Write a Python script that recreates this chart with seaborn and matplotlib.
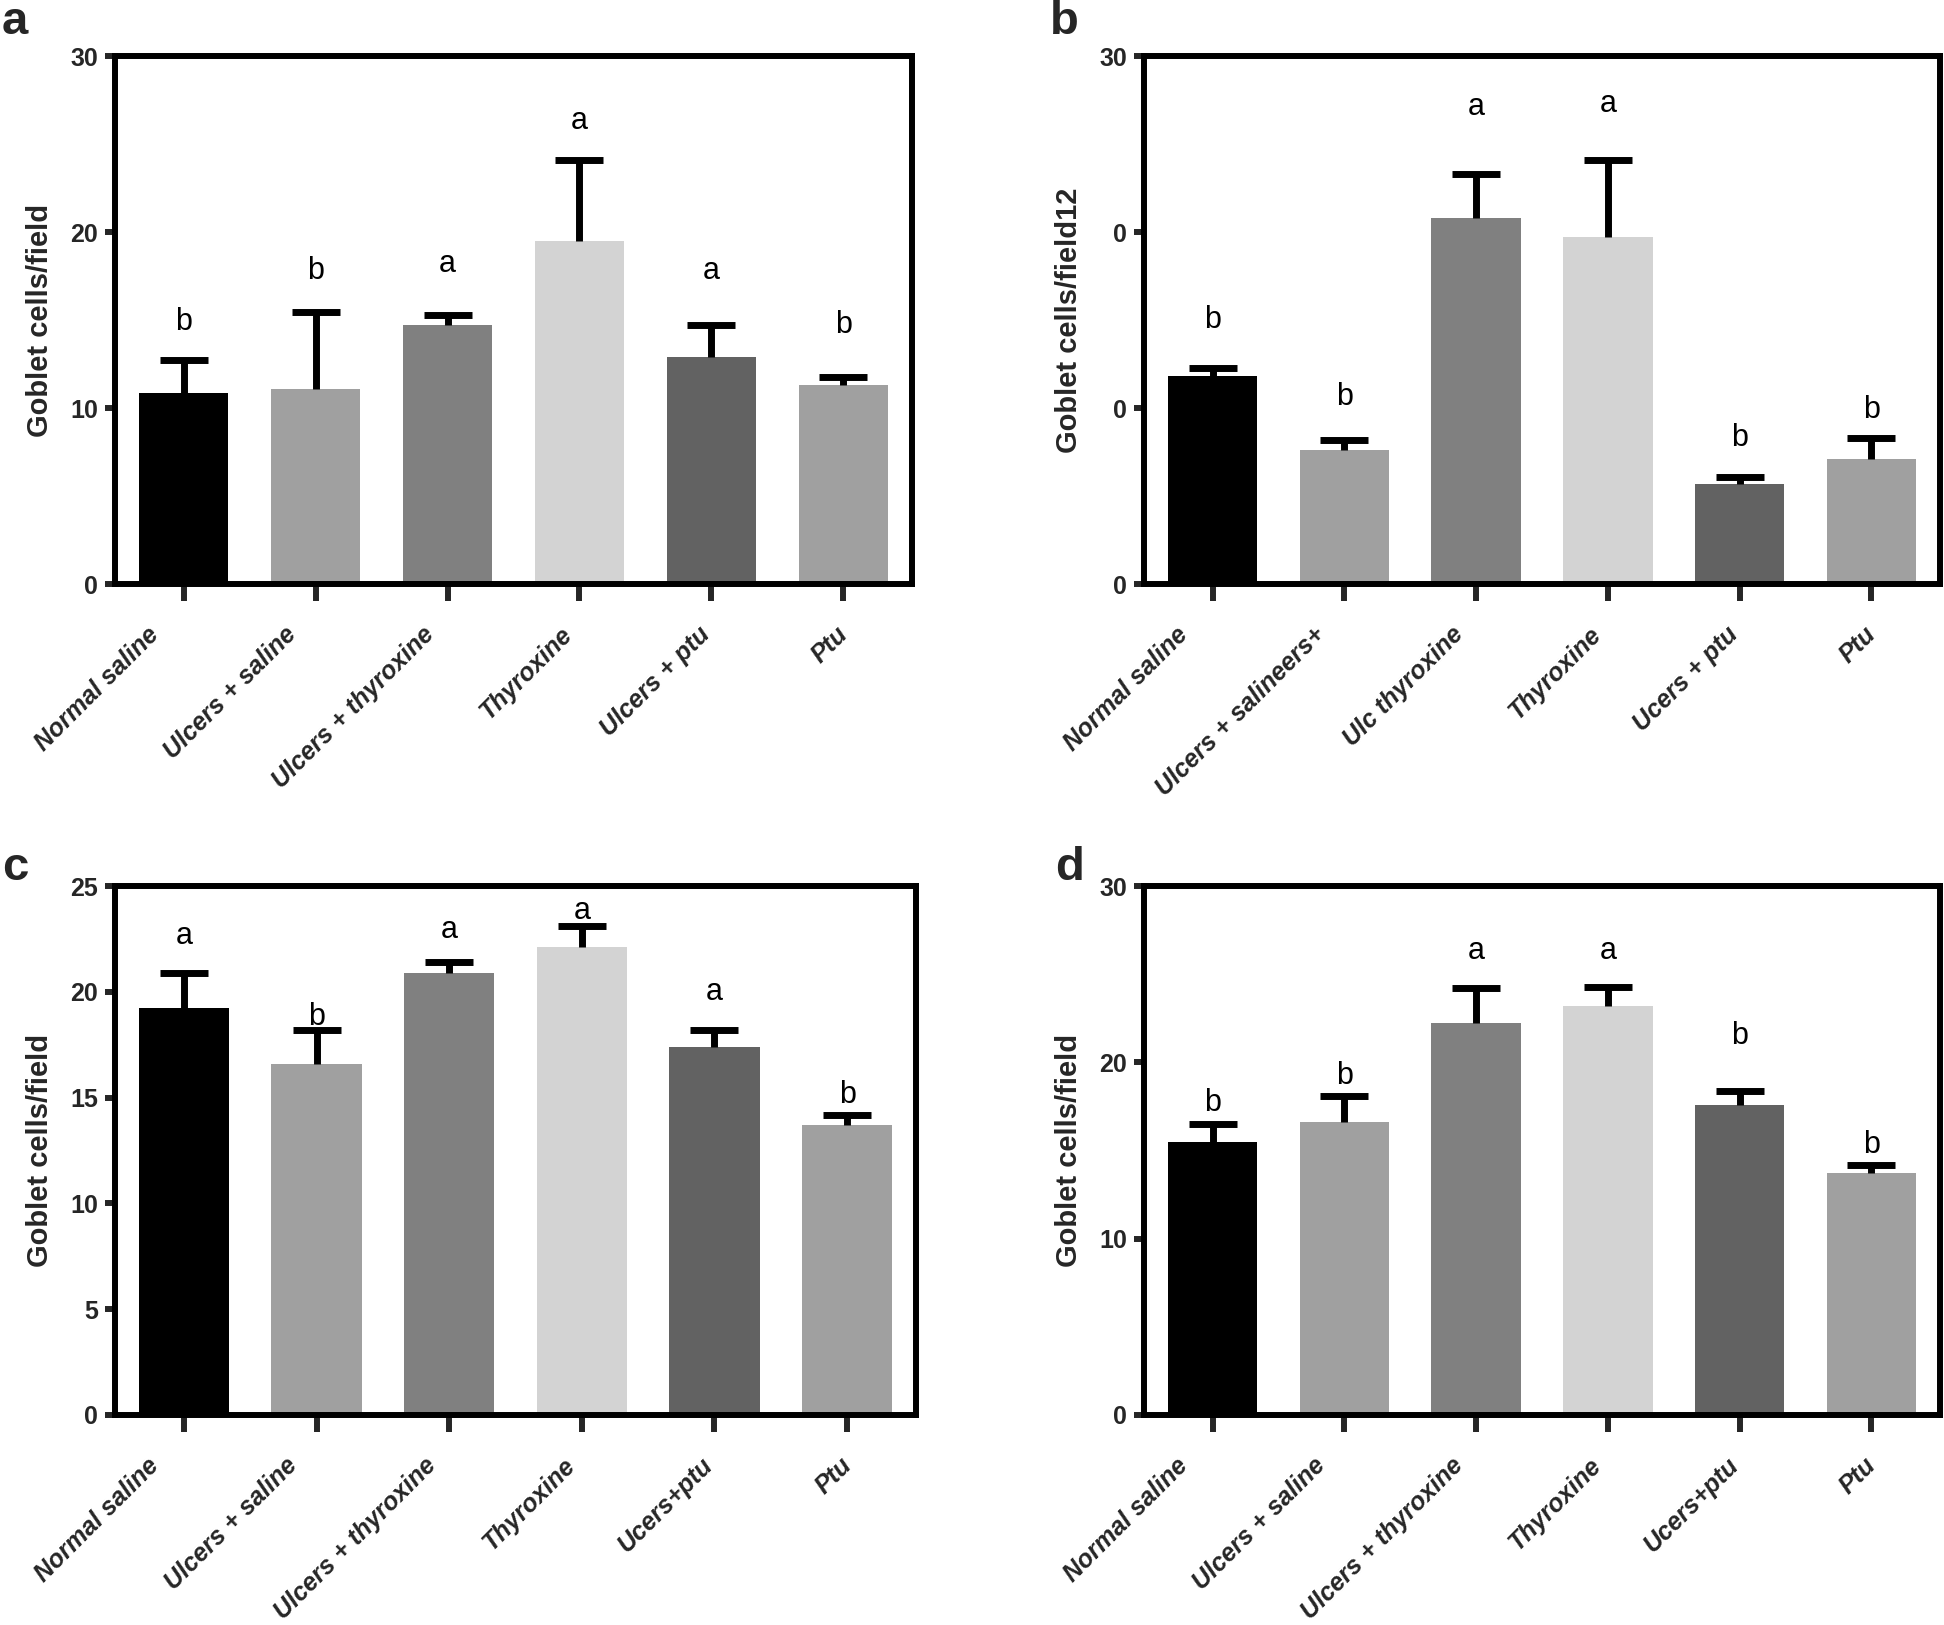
import matplotlib
matplotlib.use("Agg")
import matplotlib.pyplot as plt
import matplotlib.transforms as mtransforms
import seaborn as sns
import numpy as np
import pandas as pd

sns.set_style("white")
plt.rcParams['font.family'] = ['Liberation Sans', 'DejaVu Sans']

# ---------------- data ----------------
cats_a = ["Normal saline", "Ulcers + saline", "Ulcers + thyroxine", "Thyroxine", "Ulcers + ptu", "Ptu"]
means_a = [10.85, 11.1, 14.7, 19.5, 12.9, 11.3]
sem_a = [1.85, 4.35, 0.6, 4.6, 1.8, 0.45]
letters_a = ["b", "b", "a", "a", "a", "b"]
letter_y_a = [14.9, 17.8, 18.2, 26.3, 17.8, 14.7]

cats_b = ["Normal saline", "Ulcers + salineers+", "Ulc thyroxine", "Thyroxine", "Ucers + ptu", "Ptu"]
means_b = [11.8, 7.6, 20.8, 19.7, 5.7, 7.1]
sem_b = [0.5, 0.6, 2.5, 4.4, 0.4, 1.2]
letters_b = ["b", "b", "a", "a", "b", "b"]
letter_y_b = [15.0, 10.6, 27.1, 27.3, 8.3, 9.9]

cats_c = ["Normal saline", "Ulcers + saline", "Ulcers + thyroxine", "Thyroxine", "Ucers+ptu", "Ptu"]
means_c = [19.25, 16.6, 20.9, 22.1, 17.4, 13.7]
sem_c = [1.65, 1.6, 0.5, 1.0, 0.8, 0.5]
letters_c = ["a", "b", "a", "a", "a", "b"]
letter_y_c = [22.65, 18.8, 22.9, 23.8, 20.0, 15.1]

cats_d = ["Normal saline", "Ulcers + saline", "Ulcers + thyroxine", "Thyroxine", "Ucers+ptu", "Ptu"]
means_d = [15.5, 16.6, 22.25, 23.2, 17.6, 13.7]
sem_d = [1.0, 1.5, 1.95, 1.1, 0.8, 0.5]
letters_d = ["b", "b", "a", "a", "b", "b"]
letter_y_d = [17.7, 19.2, 26.3, 26.3, 21.5, 15.3]

yticks_ab = [0, 10, 20, 30]
yticklabels_a = ["0", "10", "20", "30"]
yticklabels_b = ["0", "0", "0", "30"]
yticks_c = [0, 5, 10, 15, 20, 25]
yticklabels_c = ["0", "5", "10", "15", "20", "25"]
yticklabels_d = ["0", "10", "20", "30"]

bar_colors = ["#000000", "#a0a0a0", "#808080", "#d3d3d3", "#626262", "#a0a0a0"]

ylabel_a = "Goblet cells/field"
ylabel_b = "Goblet cells/field12"

# ---------------- figure ----------------
W, H = 1944, 1625
fig = plt.figure(figsize=(W / 100, H / 100), dpi=100)


def px_axes(l, r, t, b):
    return fig.add_axes([l / W, 1 - b / H, (r - l) / W, (b - t) / H])


def draw_panel(ax, cats, means, sems, letters, letter_y, ymax, yticks, yticklabels, ylabel):
    df = pd.DataFrame({"group": cats, "value": means})
    sns.barplot(data=df, x="group", y="value", hue="group", palette=bar_colors,
                legend=False, width=0.68, saturation=1, errorbar=None,
                linewidth=0, ax=ax)
    xs = np.arange(len(cats))
    eb = ax.errorbar(xs, means, yerr=[np.zeros(len(sems)), sems], fmt="none",
                     ecolor="black", elinewidth=5, capsize=17, capthick=5, zorder=1)
    # keep only the upper caps
    caplines = eb.lines[1]
    if len(caplines) == 2:
        caplines[0].remove()
    for x, lt, ly in zip(xs, letters, letter_y):
        ax.text(x, ly, lt, ha="center", va="center", fontsize=22, color="black")
    ax.set_xlim(-0.52, 5.52)
    ax.set_ylim(0, ymax)
    ax.set_yticks(yticks)
    ax.set_yticklabels(yticklabels, fontsize=18, fontweight="bold")
    ax.set_xticks(xs)
    ax.set_xticklabels([""] * len(cats))
    # category labels, rotated, placed below the ticks
    for i, (x, lab) in enumerate(zip(xs, cats)):
        off = mtransforms.ScaledTranslation((-29 + 6 * i) / 100, -47 / 100, fig.dpi_scale_trans)
        ax.text(x, 0, lab, transform=ax.get_xaxis_transform() + off,
                fontsize=18, fontweight="bold", fontstyle="italic",
                rotation=45, ha="right", va="center", rotation_mode="anchor",
                clip_on=False)
    ax.set_xlabel("")
    ax.set_ylabel(ylabel, fontsize=21, fontweight="bold", labelpad=12)
    for s in ax.spines.values():
        s.set_visible(True)
        s.set_linewidth(4.3)
        s.set_color("black")
    ax.tick_params(axis="y", direction="out", length=7, width=4.3, pad=5, left=True)
    ax.tick_params(axis="x", direction="out", length=12, width=4.3, pad=22, bottom=True)
    ax.grid(False)


ax_a = px_axes(115, 912, 56, 584)
draw_panel(ax_a, cats_a, means_a, sem_a, letters_a, letter_y_a, 30, yticks_ab, yticklabels_a, ylabel_a)

ax_b = px_axes(1144, 1940, 56, 584)
draw_panel(ax_b, cats_b, means_b, sem_b, letters_b, letter_y_b, 30, yticks_ab, yticklabels_b, ylabel_b)

ax_c = px_axes(115, 916, 886, 1415)
draw_panel(ax_c, cats_c, means_c, sem_c, letters_c, letter_y_c, 25, yticks_c, yticklabels_c, ylabel_a)

ax_d = px_axes(1144, 1940, 886, 1415)
draw_panel(ax_d, cats_d, means_d, sem_d, letters_d, letter_y_d, 30, yticks_ab, yticklabels_d, ylabel_a)

for lab, (x, y) in zip(["a", "b", "c", "d"], [(2, 22), (1050, 22), (2, 868), (1055, 868)]):
    fig.text(x / W, 1 - y / H, lab, fontsize=34, fontweight="bold", ha="left", va="center")

fig.savefig("out.png", dpi=100, facecolor="white")
